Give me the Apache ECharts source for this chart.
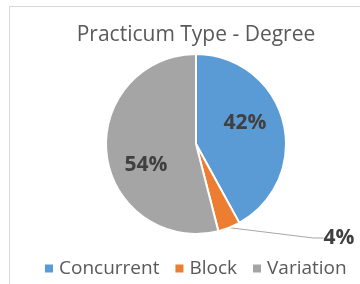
<!DOCTYPE html>
<html>
<head>
<meta charset="utf-8">
<script src="https://cdn.jsdelivr.net/npm/echarts@6/dist/echarts.min.js"></script>
<style>
  html, body { margin: 0; padding: 0; background: #fff; }
  #frame {
    position: absolute; left: 9px; top: 6px; width: 360px; height: 290px;
    border-left: 1px solid #d9d9d9; border-top: 1px solid #d9d9d9;
  }
  #main { position: absolute; left: 0; top: 0; width: 360px; height: 284px; }
</style>
</head>
<body>
<div id="frame"></div>
<div id="main"></div>
<script>
// 饼图数据
const categories = ['Concurrent', 'Block', 'Variation'];
const values = [42, 4, 54];
const colors = ['#5B9BD5', '#ED7D31', '#A5A5A5'];
// 数据标签位置（与参考图一致）
const labelPos = [[245, 123], [339, 238], [146, 165]];

const myChart = echarts.init(document.getElementById('main'));

const option = {
  animation: false,
  title: {
    text: 'Practicum Type - Degree',
    left: 191,
    top: 20,
    textAlign: 'center',
    textStyle: {
      fontFamily: 'Open Sans',
      fontSize: 21,
      fontWeight: 'normal',
      color: '#595959'
    }
  },
  legend: {
    data: categories,
    top: 254,
    left: 38,
    icon: 'rect',
    itemWidth: 10,
    itemHeight: 10,
    itemGap: 14,
    textStyle: {
      fontFamily: 'Open Sans',
      fontSize: 19,
      color: '#595959'
    }
  },
  series: [
    {
      type: 'pie',
      center: [196, 144],
      radius: 90,
      startAngle: 90,
      clockwise: true,
      itemStyle: {
        borderColor: '#fff',
        borderWidth: 2
      },
      label: {
        position: 'inside',
        formatter: '{c}%',
        fontFamily: 'Open Sans',
        fontSize: 21,
        fontWeight: 'bold',
        color: '#404040'
      },
      labelLine: { show: false },
      labelLayout: function (params) {
        const p = labelPos[params.dataIndex];
        return { x: p[0], y: p[1], align: 'center', verticalAlign: 'middle' };
      },
      data: categories.map(function (name, i) {
        const item = { name: name, value: values[i], itemStyle: { color: colors[i] } };
        if (i === 1) {
          item.label = { position: 'outside' };
          item.labelLine = { show: true, length: 5, length2: 10, lineStyle: { color: '#a6a6a6', width: 1 } };
        }
        return item;
      })
    }
  ]
};
myChart.setOption(option);
// 根据页面大小自动响应图表大小
window.addEventListener('resize', function () {
  myChart.resize();
});
</script>
</body>
</html>
